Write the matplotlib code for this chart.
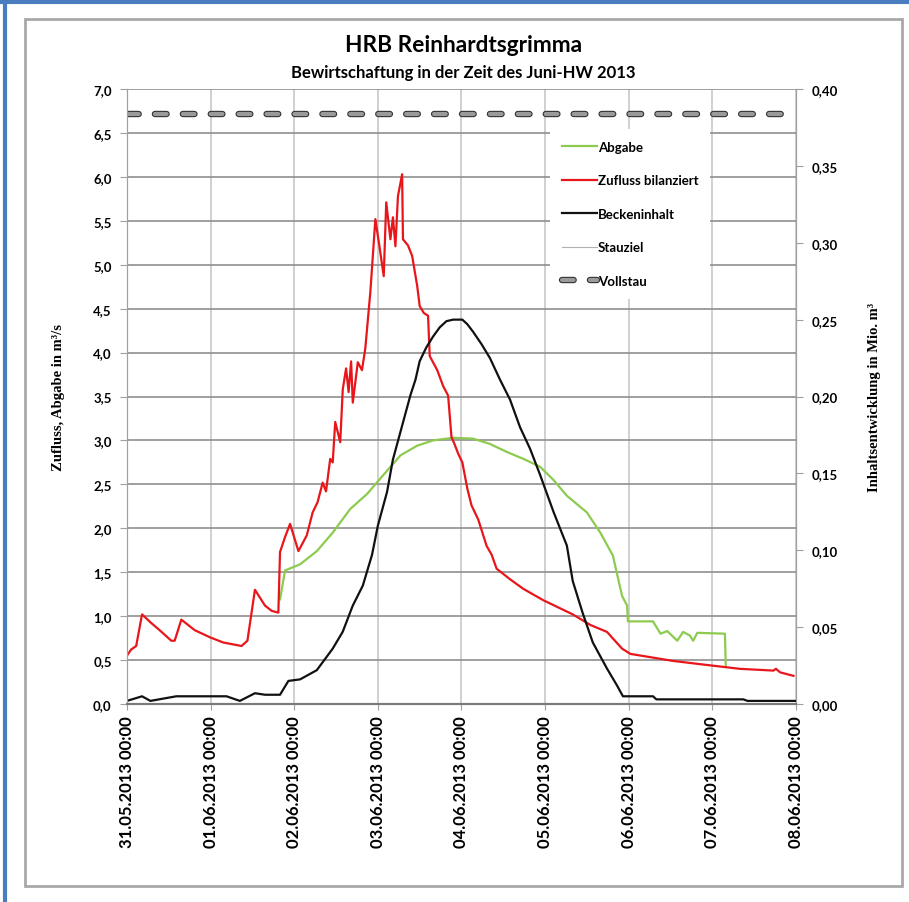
import pandas as pd
import matplotlib
matplotlib.use("Agg")
import matplotlib.pyplot as plt
import matplotlib.dates as mdates
import matplotlib.patheffects as pe
from matplotlib.lines import Line2D
from matplotlib.patches import Rectangle

T0 = pd.Timestamp("2013-05-31 00:00")

# Zufluss bilanziert (m³/s), Zeit in Tagen ab 31.05.2013 00:00
red_days = [0.00, 0.05, 0.11, 0.18, 0.28, 0.39, 0.53, 0.57, 0.65, 0.81, 0.99, 1.15, 1.37, 1.44,
            1.53, 1.65, 1.73, 1.81, 1.83, 1.89, 1.95, 2.05, 2.15, 2.22, 2.28, 2.34, 2.38, 2.43,
            2.46, 2.49, 2.55, 2.58, 2.62, 2.65, 2.68, 2.70, 2.76, 2.81, 2.85, 2.91, 2.97, 3.02,
            3.07, 3.10, 3.15, 3.18, 3.21, 3.24, 3.29, 3.30, 3.36, 3.41, 3.47, 3.50, 3.55, 3.60,
            3.62, 3.71, 3.78, 3.84, 3.88, 3.92, 3.96, 4.01, 4.07, 4.12, 4.20, 4.30, 4.36, 4.42,
            4.58, 4.74, 4.98, 5.33, 5.54, 5.74, 5.92, 6.02, 6.53, 6.97, 7.33, 7.73, 7.76, 7.81,
            7.97]
red_vals = [0.55, 0.62, 0.66, 1.02, 0.93, 0.84, 0.72, 0.72, 0.96, 0.84, 0.76, 0.70, 0.66, 0.72,
            1.30, 1.12, 1.06, 1.04, 1.73, 1.90, 2.05, 1.74, 1.92, 2.18, 2.30, 2.52, 2.42, 2.79,
            2.75, 3.21, 2.98, 3.58, 3.82, 3.55, 3.90, 3.43, 3.89, 3.80, 4.05, 4.69, 5.52, 5.20,
            4.87, 5.71, 5.29, 5.54, 5.21, 5.78, 6.03, 5.29, 5.22, 5.10, 4.76, 4.53, 4.45, 4.42,
            3.96, 3.80, 3.62, 3.51, 3.04, 2.95, 2.85, 2.75, 2.45, 2.26, 2.10, 1.80, 1.70, 1.54,
            1.42, 1.31, 1.18, 1.02, 0.90, 0.82, 0.63, 0.57, 0.49, 0.44, 0.40, 0.38, 0.40, 0.36,
            0.32]

# Abgabe (m³/s)
green_days = [1.83, 1.89, 2.07, 2.27, 2.46, 2.67, 2.87, 3.06, 3.27, 3.47, 3.66, 3.90, 4.14, 4.34,
              4.54, 4.74, 4.94, 5.10, 5.26, 5.50, 5.66, 5.81, 5.92, 5.98, 5.99, 6.29, 6.38, 6.46,
              6.58, 6.65, 6.73, 6.77, 6.82, 7.15, 7.16]
green_vals = [1.19, 1.52, 1.59, 1.74, 1.95, 2.22, 2.39, 2.60, 2.83, 2.94, 3.00, 3.03, 3.02, 2.96,
              2.87, 2.79, 2.70, 2.55, 2.37, 2.18, 1.95, 1.69, 1.23, 1.12, 0.94, 0.94, 0.80, 0.83,
              0.72, 0.82, 0.78, 0.72, 0.81, 0.80, 0.44]

# Beckeninhalt (Mio. m³)
black_days = [0.00, 0.18, 0.28, 0.59, 1.19, 1.35, 1.53, 1.65, 1.83, 1.93, 2.07, 2.27, 2.46, 2.58,
              2.70, 2.82, 2.93, 3.00, 3.11, 3.18, 3.27, 3.39, 3.45, 3.50, 3.58, 3.66, 3.74, 3.82,
              3.90, 3.96, 4.01, 4.07, 4.14, 4.24, 4.34, 4.46, 4.58, 4.70, 4.82, 4.94, 5.10, 5.26,
              5.33, 5.45, 5.57, 5.74, 5.86, 5.93, 6.29, 6.33, 7.37, 7.42, 8.00]
black_vals = [0.002, 0.005, 0.002, 0.005, 0.005, 0.002, 0.007, 0.006, 0.006, 0.015, 0.016, 0.022,
              0.036, 0.047, 0.064, 0.077, 0.097, 0.116, 0.138, 0.159, 0.177, 0.201, 0.211, 0.223,
              0.232, 0.239, 0.245, 0.249, 0.250, 0.250, 0.250, 0.247, 0.242, 0.234, 0.225, 0.211,
              0.198, 0.180, 0.166, 0.149, 0.125, 0.103, 0.080, 0.059, 0.040, 0.023, 0.012, 0.005,
              0.005, 0.003, 0.003, 0.002, 0.002]

vollstau_days = [0.0, 8.0]
vollstau_vals = [0.384, 0.384]

y_left_ticks = [i * 0.5 for i in range(15)]
y_right_ticks = [i * 0.05 for i in range(9)]


def to_time(days):
    return [T0 + pd.Timedelta(days=d) for d in days]


def main():
    fig = plt.figure(figsize=(9.09, 9.03), dpi=100)
    ax = fig.add_axes([0.1397, 0.2193, 0.7360, 0.6810])
    ax2 = ax.twinx()

    # Rahmen
    fig.add_artist(Rectangle((25 / 909, 1 - 887 / 903), 877 / 909, 867 / 903,
                             transform=fig.transFigure, fill=False, ec="#a8a8a8", lw=2))
    fig.add_artist(Line2D([0, 1], [1 - 3 / 903] * 2, transform=fig.transFigure,
                          color="#4a7dc0", lw=3))
    fig.add_artist(Line2D([4.5 / 909] * 2, [0, 1], transform=fig.transFigure,
                          color="#4a7dc0", lw=3))

    ax.plot(to_time(green_days), green_vals, color="#8dcb4f", lw=1.6, label="Abgabe")
    ax.plot(to_time(red_days), red_vals, color="#e8161b", lw=1.6, label="Zufluss bilanziert")
    ax2.plot(to_time(black_days), black_vals, color="#111111", lw=1.6, label="Beckeninhalt")
    ax2.plot(to_time(vollstau_days), vollstau_vals, color="#9a9a9a", lw=3.0,
             dashes=(2.8, 3.9), solid_capstyle="round", dash_capstyle="round",
             path_effects=[pe.Stroke(linewidth=4.6, foreground="#333333"), pe.Normal()],
             label="Vollstau")

    ax.set_xlim(T0, T0 + pd.Timedelta(days=8))
    ax.set_ylim(0, 7)
    ax2.set_ylim(0, 0.4)
    ax.set_yticks(y_left_ticks)
    ax.set_yticklabels([f"{v:.1f}".replace(".", ",") for v in y_left_ticks])
    ax2.set_yticks(y_right_ticks)
    ax2.set_yticklabels([f"{v:.2f}".replace(".", ",") for v in y_right_ticks])
    ax.xaxis.set_major_locator(mdates.DayLocator())
    ax.xaxis.set_major_formatter(mdates.DateFormatter("%d.%m.%Y %H:%M"))

    ax.set_axisbelow(True)
    ax.yaxis.grid(True, color="#8f8f8f", lw=1.2)
    ax.xaxis.grid(True, color="#c8c8c8", lw=1.2)

    for a in (ax, ax2):
        a.spines["top"].set_visible(False)
        a.spines["left"].set_color("#a0a0a0")
        a.spines["right"].set_color("#a0a0a0")
        a.spines["bottom"].set_color("#7a7a7a")
        a.spines["bottom"].set_linewidth(1.5)

    tick_font = dict(family="Lato", weight="bold", size=9.5)
    ax.tick_params(axis="y", length=5, color="#a0a0a0", pad=6)
    ax2.tick_params(axis="y", length=5, color="#a0a0a0", pad=6)
    ax.tick_params(axis="x", length=4, color="#a0a0a0", pad=4)
    for lab in ax.get_yticklabels() + ax2.get_yticklabels():
        lab.set_fontproperties(tick_font)
    for lab in ax.get_xticklabels():
        lab.set_fontproperties(dict(family="Lato", weight="bold", size=12))
        lab.set_rotation(90)
        lab.set_va("top")
        lab.set_ha("center")

    ax.set_ylabel("Zufluss, Abgabe in m³/s", family="Liberation Serif", weight="bold",
                  size=10.5, labelpad=20)
    ax2.set_ylabel("Inhaltsentwicklung in Mio. m³", family="Liberation Serif", weight="bold",
                   size=10.5, rotation=90, labelpad=22)

    fig.text(0.5097, 1 - 46 / 903, "HRB Reinhardtsgrimma", ha="center", va="center",
             family="Lato", weight="bold", size=16.3)
    fig.text(0.5097, 1 - 73 / 903, "Bewirtschaftung in der Zeit des Juni-HW 2013", ha="center",
             va="center", family="Lato", weight="bold", size=12)

    handles = [
        Line2D([0], [0], color="#8dcb4f", lw=1.6, label="Abgabe"),
        Line2D([0], [0], color="#e8161b", lw=1.6, label="Zufluss bilanziert"),
        Line2D([0], [0], color="#111111", lw=1.6, label="Beckeninhalt"),
        Line2D([0], [0], color="#b0b0b0", lw=0.8, label="Stauziel"),
        ax2.get_lines()[1],
    ]
    leg = ax2.legend(handles=handles, loc="upper left", bbox_to_anchor=(0.633, 0.935),
                     frameon=True, framealpha=1, edgecolor="none", facecolor="white",
                     prop=dict(family="Lato", weight="bold", size=9.5), handlelength=2.6,
                     handletextpad=0.1, labelspacing=1.63, borderpad=0.9, borderaxespad=0)
    leg.get_frame().set_boxstyle("square", pad=0)

    fig.savefig("out.png", dpi=100, facecolor="white")
    plt.close(fig)


if __name__ == "__main__":
    main()
